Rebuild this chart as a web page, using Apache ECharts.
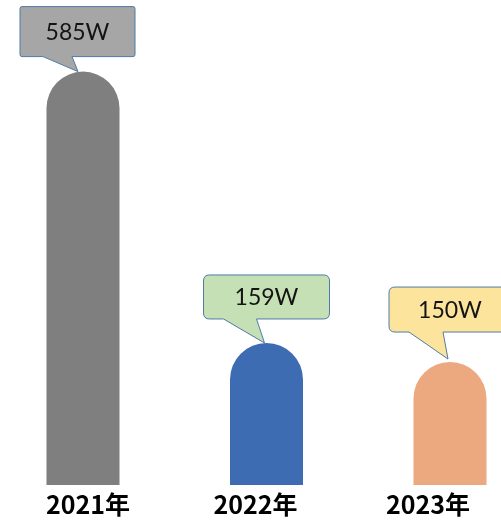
<!DOCTYPE html>
<html><head><meta charset="utf-8">
<script src="https://cdn.jsdelivr.net/npm/echarts@6/dist/echarts.min.js"></script>
<style>html,body{margin:0;padding:0;background:#fff}#c{width:501px;height:522px}</style>
</head><body><div id="c"></div>
<script>
// ---- data ----
const categories = ['2021年', '2022年', '2023年'];
const amounts = [585, 159, 150];          // values shown in the callouts (W)
const barHeights = [585, 201, 174];       // bar heights as drawn in the picture
const labelTexts = amounts.map(v => v + 'W');

// ---- styles ----
const barColors = ['#7f7f7f', '#3e6cb3', '#eca97f'];
const boxColors = ['#a6a6a6', '#c5e0b4', '#fde49c'];
// callout geometry relative to the pointer tip (px)
const callouts = [
  {l: -58, r: 57, t: -65, b: -15, bl: -35, br: -6, dx: -5, dy: 0, rad: 2},
  {l: -61, r: 65, t: -68, b: -24, bl: -41, br: -8, dx: -2, dy: 0, rad: 6},
  {l: -59, r: 63, t: -72, b: -27, bl: -39, br: -5, dx: -2, dy: -3, rad: 6}
];
const labelShift = [5, -11, -22];

function calloutPath(x0, y0, x1, y1, r, bl, br, tx, ty) {
  return 'M' + (x0 + r) + ' ' + y0 +
    'L' + (x1 - r) + ' ' + y0 + 'Q' + x1 + ' ' + y0 + ' ' + x1 + ' ' + (y0 + r) +
    'L' + x1 + ' ' + (y1 - r) + 'Q' + x1 + ' ' + y1 + ' ' + (x1 - r) + ' ' + y1 +
    'L' + br + ' ' + y1 + 'L' + tx + ' ' + ty + 'L' + bl + ' ' + y1 +
    'L' + (x0 + r) + ' ' + y1 + 'Q' + x0 + ' ' + y1 + ' ' + x0 + ' ' + (y1 - r) +
    'L' + x0 + ' ' + (y0 + r) + 'Q' + x0 + ' ' + y0 + ' ' + (x0 + r) + ' ' + y0 + 'Z';
}

const rich = {};
labelShift.forEach((s, i) => {
  rich['l' + i] = {
    fontSize: 25, fontWeight: 'bold', color: '#000',
    fontFamily: '"Noto Sans CJK SC", sans-serif',
    padding: s >= 0 ? [0, 0, 0, 2 * s] : [0, -2 * s, 0, 0]
  };
});

const chart = echarts.init(document.getElementById('c'), null, {renderer: 'canvas'});
chart.setOption({
  animation: false,
  backgroundColor: '#fff',
  grid: {left: 83, right: 51, top: 61, bottom: 37, containLabel: false},
  xAxis: {
    type: 'category', data: categories, boundaryGap: false,
    axisLine: {show: false}, axisTick: {show: false}, splitLine: {show: false},
    axisLabel: {
      margin: 7,
      formatter: (v, i) => '{l' + i + '|' + v + '}',
      rich: rich
    }
  },
  yAxis: {type: 'value', min: 0, max: 600, show: false},
  series: [{
    type: 'custom',
    clip: false,
    data: barHeights.map((v, i) => [i, v]),
    encode: {x: 0, y: 1},
    renderItem: function (params, api) {
      const i = params.dataIndex;
      const base = api.coord([i, 0]);
      const top = api.coord([i, api.value(1)]);
      const w = 73, r = w / 2;
      const cx = top[0];
      const c = callouts[i];
      const tx = cx + c.dx, ty = top[1] + c.dy;
      const x0 = tx + c.l, x1 = tx + c.r, y0 = ty + c.t, y1 = ty + c.b;
      return {
        type: 'group',
        children: [
          {type: 'rect', shape: {x: cx - w / 2, y: top[1], width: w, height: base[1] - top[1], r: [r, r, 0, 0]},
            style: {fill: barColors[i]}},
          {type: 'path', shape: {pathData: calloutPath(x0, y0, x1, y1, c.rad, tx + c.bl, tx + c.br, tx, ty)},
            style: {fill: boxColors[i], stroke: '#4f7aa8', lineWidth: 1}},
          {type: 'text', style: {text: labelTexts[i], x: (x0 + x1) / 2, y: (y0 + y1) / 2 + 1,
            align: 'center', verticalAlign: 'middle', fontSize: 23, fontFamily: 'Lato', fill: '#141414'}}
        ]
      };
    }
  }]
});
</script>
</body></html>
